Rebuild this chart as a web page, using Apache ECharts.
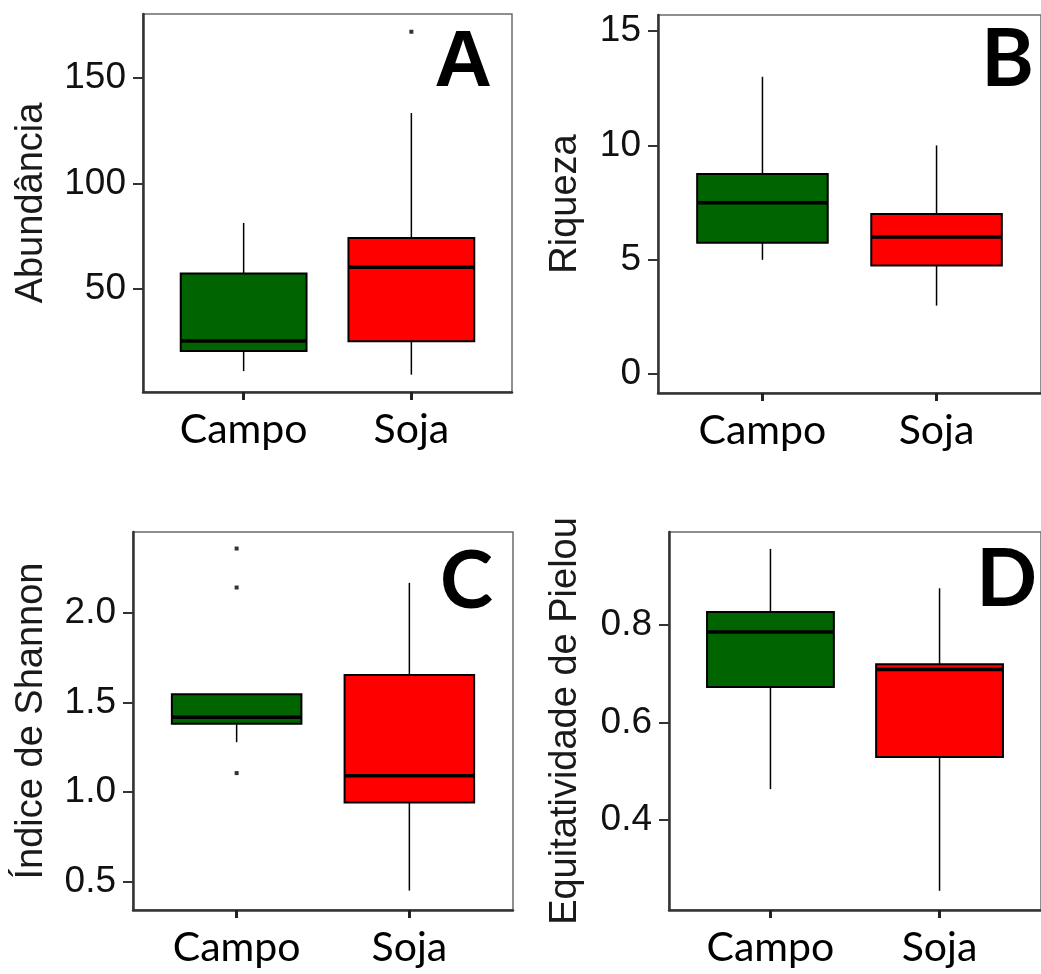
<!DOCTYPE html>
<html>
<head>
    <meta charset="utf-8">
    <title>Boxplots Campo x Soja</title>
    <script src="https://cdn.jsdelivr.net/npm/echarts@6.0.0/dist/echarts.min.js"></script>
    <style>
        html, body { margin: 0; padding: 0; background: #fff; }
    </style>
</head>
<body>
    <div id="main" style="width: 1041px;height:974px;"></div>
    <script type="text/javascript">
        // categorias e dados: [min, Q1, mediana, Q3, max]
        var categories = ['Campo', 'Soja'];
        var boxColors = ['#006400', '#ff0000'];

        var abundancia = [[11.1, 20.6, 25.4, 57.3, 81.3], [9.4, 25.2, 60.3, 74.2, 133.4]];
        var abundanciaOut = [[], [171.9]];

        var riqueza = [[5, 5.75, 7.5, 8.75, 13], [3, 4.75, 6, 7, 10]];
        var riquezaOut = [[], []];

        var shannon = [[1.278, 1.38, 1.417, 1.545, 1.545], [0.452, 0.943, 1.091, 1.652, 2.165]];
        var shannonOut = [[2.356, 2.139, 1.106], []];

        var pielou = [[0.463, 0.673, 0.786, 0.827, 0.957], [0.254, 0.529, 0.709, 0.72, 0.876]];
        var pielouOut = [[], []];

        // rótulos dos eixos y
        var ticksA = [50, 100, 150];
        var ticksB = [0, 5, 10, 15];
        var ticksC = [0.5, 1.0, 1.5, 2.0];
        var ticksD = [0.4, 0.6, 0.8];

        var panels = [
            { letter: 'A', name: 'Abundância', box: abundancia, out: abundanciaOut, ticks: ticksA, dec: 0,
              min: 1.2, max: 180.3, grid: { left: 143, top: 14, width: 369, height: 378 }, gap: 92,
              letterPos: [492, 64], letterFont: 'Liberation Sans' },
            { letter: 'B', name: 'Riqueza', box: riqueza, out: riquezaOut, ticks: ticksB, dec: 0,
              min: -0.82, max: 15.7, grid: { left: 658, top: 15, width: 392, height: 378 }, gap: 73,
              letterPos: [1034, 60], letterFont: 'Lato' },
            { letter: 'C', name: 'Índice de Shannon', box: shannon, out: shannonOut, ticks: ticksC, dec: 1,
              min: 0.344, max: 2.448, grid: { left: 133, top: 532, width: 380, height: 378 }, gap: 82,
              letterPos: [493, 582], letterFont: 'Lato' },
            { letter: 'D', name: 'Equitatividade de Pielou', box: pielou, out: pielouOut, ticks: ticksD, dec: 1,
              min: 0.2145, max: 0.9917, grid: { left: 669, top: 532, width: 385, height: 378 }, gap: 84,
              letterPos: [1037, 580], letterFont: 'Lato' }
        ];

        function renderBox(params, api) {
            var x = api.value(0);
            var pLo = api.coord([x, api.value(1)]);
            var pQ1 = api.coord([x, api.value(2)]);
            var pMd = api.coord([x, api.value(3)]);
            var pQ3 = api.coord([x, api.value(4)]);
            var pHi = api.coord([x, api.value(5)]);
            var half = api.size([0.75, 0])[0] / 2;
            var line = { stroke: '#000', lineWidth: 1.5 };
            return {
                type: 'group',
                children: [
                    { type: 'line', shape: { x1: pHi[0], y1: pHi[1], x2: pQ3[0], y2: pQ3[1] }, style: line },
                    { type: 'line', shape: { x1: pLo[0], y1: pLo[1], x2: pQ1[0], y2: pQ1[1] }, style: line },
                    { type: 'rect',
                      shape: { x: pQ1[0] - half, y: pQ3[1], width: half * 2, height: pQ1[1] - pQ3[1] },
                      style: { fill: boxColors[params.dataIndex], stroke: '#000', lineWidth: 2 } },
                    { type: 'line', shape: { x1: pMd[0] - half, y1: pMd[1], x2: pMd[0] + half, y2: pMd[1] },
                      style: { stroke: '#000', lineWidth: 3.5 } }
                ]
            };
        }

        var grids = [], xAxes = [], yAxes = [], series = [], graphics = [];
        panels.forEach(function (p, i) {
            grids.push({
                left: p.grid.left, top: p.grid.top, width: p.grid.width, height: p.grid.height,
                show: true, borderColor: '#6b6b6b', borderWidth: 1.5, backgroundColor: '#fff'
            });
            xAxes.push({
                type: 'value', gridIndex: i, min: 0.4, max: 2.6,
                splitLine: { show: false },
                axisLine: { onZero: false, lineStyle: { color: '#333', width: 2.5 } },
                axisTick: { customValues: [1, 2], length: 8, lineStyle: { color: '#222', width: 3 } },
                axisLabel: {
                    customValues: [1, 2], margin: 17,
                    formatter: function (v) { return categories[Math.round(v) - 1]; },
                    fontFamily: 'Lato', fontSize: 41, color: '#000'
                }
            });
            yAxes.push({
                type: 'value', gridIndex: i, min: p.min, max: p.max,
                name: p.name, nameLocation: 'middle', nameGap: p.gap,
                nameTextStyle: { fontFamily: 'Liberation Sans', fontSize: 38, color: '#1a1a1a' },
                splitLine: { show: false },
                axisLine: { onZero: false, lineStyle: { color: '#333', width: 2.5 } },
                axisTick: { customValues: p.ticks, length: 10, lineStyle: { color: '#333', width: 2 } },
                axisLabel: {
                    customValues: p.ticks, margin: 17,
                    formatter: (function (dec) { return function (v) { return v.toFixed(dec); }; })(p.dec),
                    fontFamily: 'Liberation Sans', fontSize: 37, color: '#111'
                }
            });
            series.push({
                type: 'custom', xAxisIndex: i, yAxisIndex: i,
                renderItem: renderBox,
                encode: { x: 0, y: [1, 2, 3, 4, 5] },
                data: p.box.map(function (b, k) { return [k + 1].concat(b); }),
                silent: true
            });
            var outPts = [];
            p.out.forEach(function (vals, k) {
                vals.forEach(function (v) { outPts.push([k + 1, v]); });
            });
            series.push({
                type: 'scatter', xAxisIndex: i, yAxisIndex: i,
                symbol: 'rect', symbolSize: 4, itemStyle: { color: '#000' },
                data: outPts, silent: true, z: 5
            });
            graphics.push({
                type: 'text', x: p.letterPos[0], y: p.letterPos[1], z: 10,
                style: {
                    text: p.letter, align: 'right', verticalAlign: 'middle',
                    font: 'bold 80px "' + p.letterFont + '"', fill: '#000'
                }
            });
        });

        var dom = document.getElementById('main');
        var myChart = echarts.init(dom);
        var option = {
            backgroundColor: '#fff',
            animation: false,
            grid: grids,
            xAxis: xAxes,
            yAxis: yAxes,
            series: series,
            graphic: graphics
        };
        myChart.setOption(option);
    </script>
</body>
</html>
